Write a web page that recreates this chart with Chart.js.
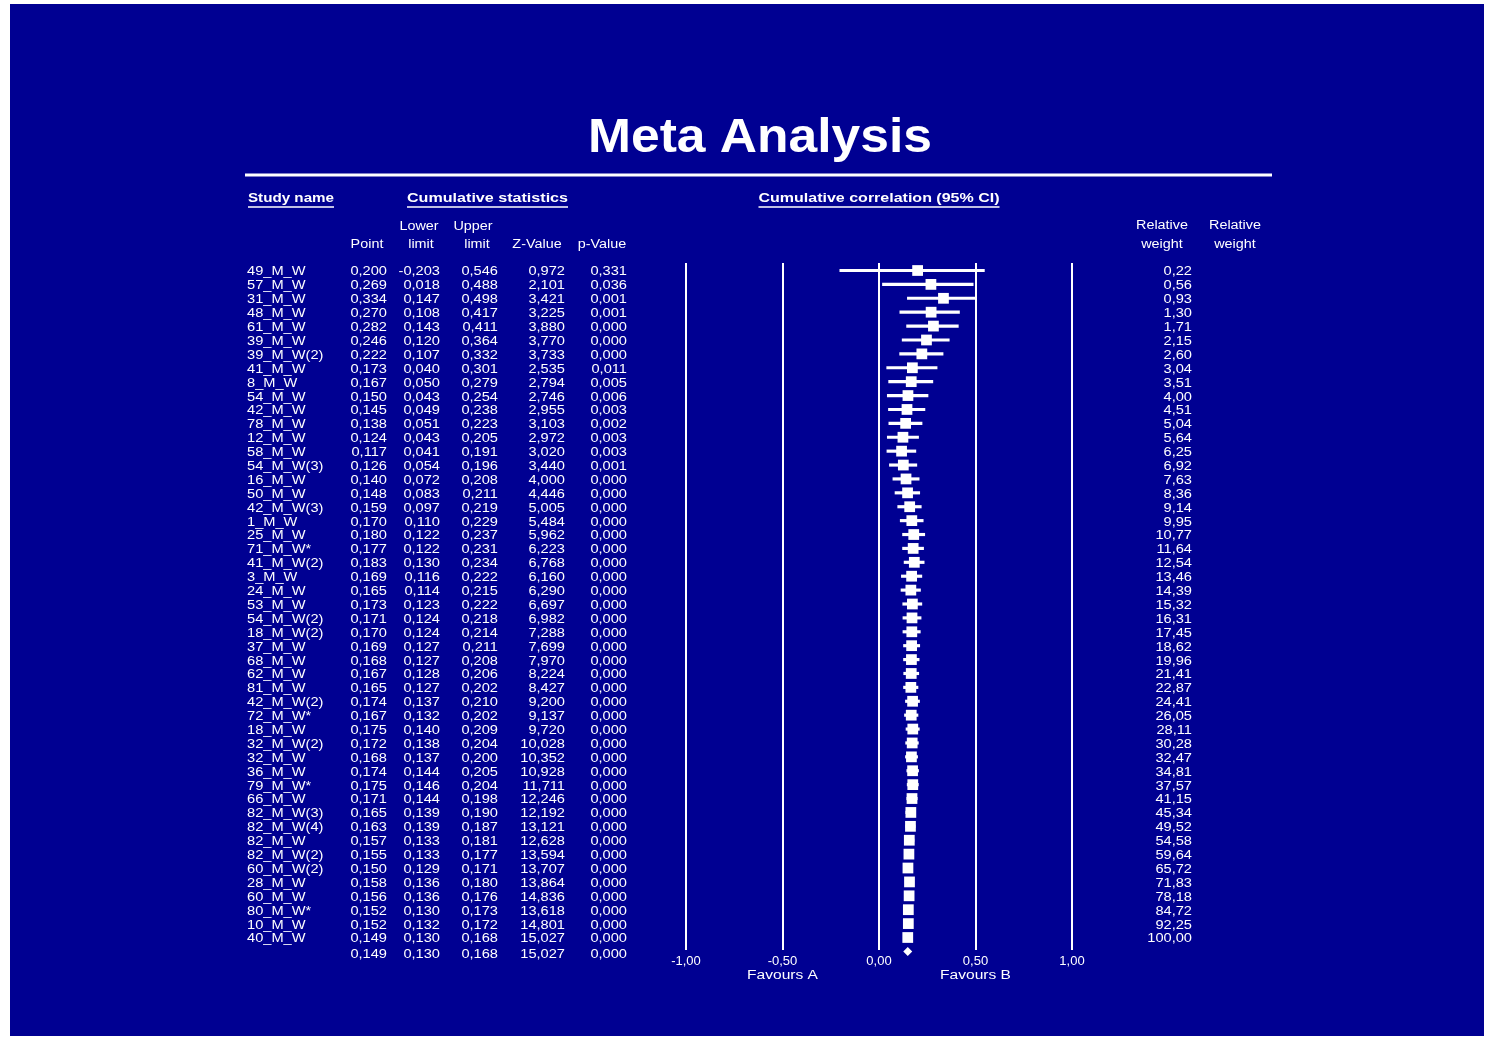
<!DOCTYPE html>
<html>
<head>
<meta charset="utf-8">
<title>Meta Analysis</title>
<script src="https://cdn.jsdelivr.net/npm/chart.js@4.4.1/dist/chart.umd.min.js"></script>
<style>
  html, body { margin: 0; padding: 0; background: #ffffff; }
  canvas { display: block; }
</style>
</head>
<body>
<canvas id="forest" width="1490" height="1040"></canvas>
<script>
// ---- Cumulative meta-analysis data ----
const studyNames = ['49_M_W','57_M_W','31_M_W','48_M_W','61_M_W','39_M_W','39_M_W(2)','41_M_W','8_M_W','54_M_W',
  '42_M_W','78_M_W','12_M_W','58_M_W','54_M_W(3)','16_M_W','50_M_W','42_M_W(3)','1_M_W','25_M_W',
  '71_M_W*','41_M_W(2)','3_M_W','24_M_W','53_M_W','54_M_W(2)','18_M_W(2)','37_M_W','68_M_W','62_M_W',
  '81_M_W','42_M_W(2)','72_M_W*','18_M_W','32_M_W(2)','32_M_W','36_M_W','79_M_W*','66_M_W','82_M_W(3)',
  '82_M_W(4)','82_M_W','82_M_W(2)','60_M_W(2)','28_M_W','60_M_W','80_M_W*','10_M_W','40_M_W'];

const pointEst = [0.200,0.269,0.334,0.270,0.282,0.246,0.222,0.173,0.167,0.150,
  0.145,0.138,0.124,0.117,0.126,0.140,0.148,0.159,0.170,0.180,
  0.177,0.183,0.169,0.165,0.173,0.171,0.170,0.169,0.168,0.167,
  0.165,0.174,0.167,0.175,0.172,0.168,0.174,0.175,0.171,0.165,
  0.163,0.157,0.155,0.150,0.158,0.156,0.152,0.152,0.149];

const lowerLimit = [-0.203,0.018,0.147,0.108,0.143,0.120,0.107,0.040,0.050,0.043,
  0.049,0.051,0.043,0.041,0.054,0.072,0.083,0.097,0.110,0.122,
  0.122,0.130,0.116,0.114,0.123,0.124,0.124,0.127,0.127,0.128,
  0.127,0.137,0.132,0.140,0.138,0.137,0.144,0.146,0.144,0.139,
  0.139,0.133,0.133,0.129,0.136,0.136,0.130,0.132,0.130];

const upperLimit = [0.546,0.488,0.498,0.417,0.411,0.364,0.332,0.301,0.279,0.254,
  0.238,0.223,0.205,0.191,0.196,0.208,0.211,0.219,0.229,0.237,
  0.231,0.234,0.222,0.215,0.222,0.218,0.214,0.211,0.208,0.206,
  0.202,0.210,0.202,0.209,0.204,0.200,0.205,0.204,0.198,0.190,
  0.187,0.181,0.177,0.171,0.180,0.176,0.173,0.172,0.168];

const zValue = [0.972,2.101,3.421,3.225,3.880,3.770,3.733,2.535,2.794,2.746,
  2.955,3.103,2.972,3.020,3.440,4.000,4.446,5.005,5.484,5.962,
  6.223,6.768,6.160,6.290,6.697,6.982,7.288,7.699,7.970,8.224,
  8.427,9.200,9.137,9.720,10.028,10.352,10.928,11.711,12.246,12.192,
  13.121,12.628,13.594,13.707,13.864,14.836,13.618,14.801,15.027];

const pValue = [0.331,0.036,0.001,0.001,0.000,0.000,0.000,0.011,0.005,0.006,
  0.003,0.002,0.003,0.003,0.001,0.000,0.000,0.000,0.000,0.000,
  0.000,0.000,0.000,0.000,0.000,0.000,0.000,0.000,0.000,0.000,
  0.000,0.000,0.000,0.000,0.000,0.000,0.000,0.000,0.000,0.000,
  0.000,0.000,0.000,0.000,0.000,0.000,0.000,0.000,0.000];

const relWeight = [0.22,0.56,0.93,1.30,1.71,2.15,2.60,3.04,3.51,4.00,
  4.51,5.04,5.64,6.25,6.92,7.63,8.36,9.14,9.95,10.77,
  11.64,12.54,13.46,14.39,15.32,16.31,17.45,18.62,19.96,21.41,
  22.87,24.41,26.05,28.11,30.28,32.47,34.81,37.57,41.15,45.34,
  49.52,54.58,59.64,65.72,71.83,78.18,84.72,92.25,100.00];

// Pooled (final cumulative) result
const summaryPoint = 0.149;
const summaryLower = 0.130;
const summaryUpper = 0.168;
const summaryZ = 15.027;
const summaryP = 0.000;

const xTicks = [-1, -0.5, 0, 0.5, 1];
const favourLabels = [{ at: -0.5, text: 'Favours A' }, { at: 0.5, text: 'Favours B' }];

// ---- helpers ----
const FONT = '"Liberation Sans", Arial, Helvetica, sans-serif';
const BG = '#000092';
const fmt = (v, d) => v.toFixed(d).replace('.', ',');

function drawText(ctx, s, x, y, align, size, bold, sx, fitWidth) {
  ctx.save();
  ctx.font = (bold ? 'bold ' : '') + size + 'px ' + FONT;
  ctx.fillStyle = '#ffffff';
  ctx.textBaseline = 'middle';
  ctx.textAlign = align;
  const w = ctx.measureText(s).width;
  const k = fitWidth ? fitWidth / w : sx;
  ctx.translate(x, y);
  ctx.scale(k, 1);
  ctx.fillText(s, 0, 0);
  ctx.restore();
  return w * k;
}

function underlined(ctx, s, x, y, align, size, fitWidth) {
  drawText(ctx, s, x, y, align, size, true, 1, fitWidth);
  let x0 = align === 'left' ? x : x - fitWidth / 2;
  ctx.save();
  ctx.strokeStyle = '#ffffff';
  ctx.lineWidth = 1.6;
  ctx.beginPath();
  ctx.moveTo(x0, y + 8);
  ctx.lineTo(x0 + fitWidth, y + 8);
  ctx.stroke();
  ctx.restore();
}

const backdrop = {
  id: 'backdrop',
  beforeDraw(chart) {
    const ctx = chart.ctx;
    ctx.save();
    ctx.fillStyle = '#ffffff';
    ctx.fillRect(0, 0, chart.width, chart.height);
    ctx.fillStyle = BG;
    ctx.fillRect(10, 4, 1474, 1032);
    ctx.restore();
  }
};

const tableText = {
  id: 'tableText',
  afterDraw(chart) {
    const ctx = chart.ctx;
    const ys = chart.scales.y;
    const xs = chart.scales.x;

    // Title and rule
    ctx.save();
    ctx.font = 'bold 48px ' + FONT;
    ctx.fillStyle = '#ffffff';
    ctx.textAlign = 'center';
    ctx.textBaseline = 'alphabetic';
    const tw = ctx.measureText('Meta Analysis').width;
    ctx.translate(760, 152);
    ctx.scale(344 / tw, 1);
    ctx.fillText('Meta Analysis', 0, 0);
    ctx.restore();

    ctx.save();
    ctx.strokeStyle = '#ffffff';
    ctx.lineWidth = 3;
    ctx.beginPath();
    ctx.moveTo(245, 175);
    ctx.lineTo(1272, 175);
    ctx.stroke();
    ctx.restore();

    // Group headers
    underlined(ctx, 'Study name', 248, 199, 'left', 12, 86);
    underlined(ctx, 'Cumulative statistics', 487.5, 199, 'center', 12, 161);
    underlined(ctx, 'Cumulative correlation (95% CI)', xs.getPixelForValue(0), 199, 'center', 12, 241);

    // Column headers
    const hs = 12.5, hk = 1.15;
    drawText(ctx, 'Point', 367, 245, 'center', hs, false, hk);
    drawText(ctx, 'Lower', 419, 227, 'center', hs, false, hk);
    drawText(ctx, 'limit', 421, 245, 'center', hs, false, hk);
    drawText(ctx, 'Upper', 473, 227, 'center', hs, false, hk);
    drawText(ctx, 'limit', 477, 245, 'center', hs, false, hk);
    drawText(ctx, 'Z-Value', 537, 245, 'center', hs, false, hk);
    drawText(ctx, 'p-Value', 602, 245, 'center', hs, false, hk);
    drawText(ctx, 'Relative', 1162, 226, 'center', hs, false, hk);
    drawText(ctx, 'weight', 1162, 245, 'center', hs, false, hk);
    drawText(ctx, 'Relative', 1235, 226, 'center', hs, false, hk);
    drawText(ctx, 'weight', 1235, 245, 'center', hs, false, hk);

    // Table rows
    const fs = 12.5, k = 1.17;
    const cols = [387, 440, 498, 565, 627];
    studyNames.forEach((name, i) => {
      const y = ys.getPixelForValue(i) + 1.5;
      drawText(ctx, name, 247, y, 'left', fs, false, k);
      drawText(ctx, fmt(pointEst[i], 3), cols[0], y, 'right', fs, false, k);
      drawText(ctx, fmt(lowerLimit[i], 3), cols[1], y, 'right', fs, false, k);
      drawText(ctx, fmt(upperLimit[i], 3), cols[2], y, 'right', fs, false, k);
      drawText(ctx, fmt(zValue[i], 3), cols[3], y, 'right', fs, false, k);
      drawText(ctx, fmt(pValue[i], 3), cols[4], y, 'right', fs, false, k);
      drawText(ctx, fmt(relWeight[i], 2), 1192, y, 'right', fs, false, k);
    });
    const sy = ys.getPixelForValue(studyNames.length) + 3;
    drawText(ctx, fmt(summaryPoint, 3), cols[0], sy, 'right', fs, false, k);
    drawText(ctx, fmt(summaryLower, 3), cols[1], sy, 'right', fs, false, k);
    drawText(ctx, fmt(summaryUpper, 3), cols[2], sy, 'right', fs, false, k);
    drawText(ctx, fmt(summaryZ, 3), cols[3], sy, 'right', fs, false, k);
    drawText(ctx, fmt(summaryP, 3), cols[4], sy, 'right', fs, false, k);

    // Favours labels under the axis
    favourLabels.forEach(f => {
      drawText(ctx, f.text, xs.getPixelForValue(f.at), 976, 'center', 12.5, false, 1, 71);
    });
  }
};

const rows = studyNames.map((_, i) => i);

new Chart(document.getElementById('forest'), {
  type: 'scatter',
  data: {
    datasets: [
      {
        type: 'bar',
        label: 'Confidence interval',
        indexAxis: 'y',
        data: rows.map(i => ({ y: i, x: [lowerLimit[i], upperLimit[i]] })),
        backgroundColor: '#ffffff',
        borderWidth: 0,
        barThickness: 2.5,
        grouped: false,
        order: 2
      },
      {
        label: 'Cumulative estimate',
        data: rows.map(i => ({ x: pointEst[i], y: i })),
        pointStyle: 'rect',
        pointRadius: 7.6,
        backgroundColor: '#ffffff',
        borderWidth: 0,
        order: 1
      },
      {
        label: 'Pooled estimate',
        data: [{ x: summaryPoint, y: studyNames.length }],
        pointStyle: 'rectRot',
        pointRadius: 4.5,
        backgroundColor: '#ffffff',
        borderWidth: 0,
        clip: false,
        order: 0
      }
    ]
  },
  options: {
    responsive: false,
    animation: false,
    events: [],
    layout: { padding: { left: 686, right: 418, top: 263, bottom: 70 } },
    plugins: { legend: { display: false }, tooltip: { enabled: false } },
    scales: {
      x: {
        type: 'linear',
        min: -1,
        max: 1,
        offset: false,
        afterBuildTicks: s => { s.ticks = xTicks.map(v => ({ value: v })); },
        afterFit: s => { s.height = 20; },
        grid: { color: '#ffffff', lineWidth: 2, drawTicks: false, offset: false },
        border: { display: false },
        ticks: {
          color: '#ffffff',
          font: { family: FONT, size: 13 },
          padding: 4,
          maxRotation: 0,
          autoSkip: false,
          callback: v => fmt(v, 2)
        }
      },
      y: {
        type: 'linear',
        reverse: true,
        min: -0.54,
        max: 48.9,
        offset: false,
        display: false
      }
    }
  },
  plugins: [backdrop, tableText]
});
</script>
</body>
</html>
